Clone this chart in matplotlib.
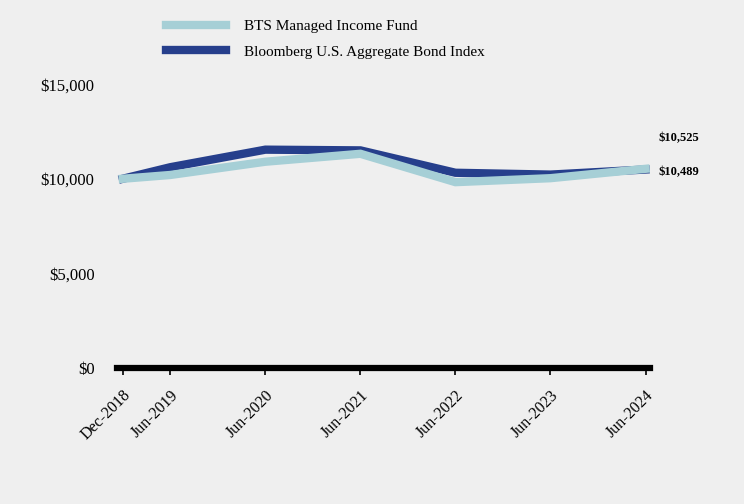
import matplotlib.pyplot as plt
from matplotlib.ticker import FuncFormatter

# months since Dec-2018
months = [0, 6, 18, 30, 42, 54, 66]
tick_labels = ['Dec-2018', 'Jun-2019', 'Jun-2020', 'Jun-2021', 'Jun-2022', 'Jun-2023', 'Jun-2024']
fund = [10000, 10200, 10900, 11320, 9820, 10030, 10525]
index = [10000, 10611, 11538, 11500, 10317, 10220, 10489]
fund_name = 'BTS Managed Income Fund'
index_name = 'Bloomberg U.S. Aggregate Bond Index'

bg = '#efefef'
light = '#a6cfd6'
dark = '#263f8c'

plt.rcParams['font.family'] = ['Liberation Serif', 'DejaVu Serif']

fig = plt.figure(figsize=(7.44, 5.04), dpi=100, facecolor=bg)
ax = fig.add_axes([0.157, 0.270, 0.717, 0.563], facecolor=bg)

l2, = ax.plot(months, index, color=dark, linewidth=6, solid_joinstyle='miter', label=index_name)
l1, = ax.plot(months, fund, color=light, linewidth=6, solid_joinstyle='miter', label=fund_name)

ax.set_xlim(-0.76, 66.6)
ax.set_ylim(0, 15000)
ax.set_yticks([0, 5000, 10000, 15000])
ax.yaxis.set_major_formatter(FuncFormatter(lambda v, p: '${:,.0f}'.format(v)))
ax.set_xticks(months)
ax.set_xticklabels(tick_labels, rotation=45, ha='right', va='top', rotation_mode='anchor')

for s in ['top', 'right', 'left']:
    ax.spines[s].set_visible(False)
ax.spines['bottom'].set_linewidth(4.5)
ax.spines['bottom'].set_color('black')
ax.tick_params(axis='y', length=0, labelsize=12, pad=16)
ax.tick_params(axis='x', length=5, width=1.2, labelsize=11.5, pad=9)

ax.annotate('${:,}'.format(fund[-1]), xy=(months[-1], fund[-1]), xytext=(9, 22),
            textcoords='offset points', fontsize=9, fontweight='bold', va='center')
ax.annotate('${:,}'.format(index[-1]), xy=(months[-1], index[-1]), xytext=(9, -2),
            textcoords='offset points', fontsize=9, fontweight='bold', va='center')

fig.legend([l1, l2], [fund_name, index_name], loc='upper left', bbox_to_anchor=(0.205, 0.988),
           frameon=False, fontsize=11, handlelength=3.9, handletextpad=1.2, labelspacing=0.75)

fig.savefig('out.png', dpi=100, facecolor=bg)
